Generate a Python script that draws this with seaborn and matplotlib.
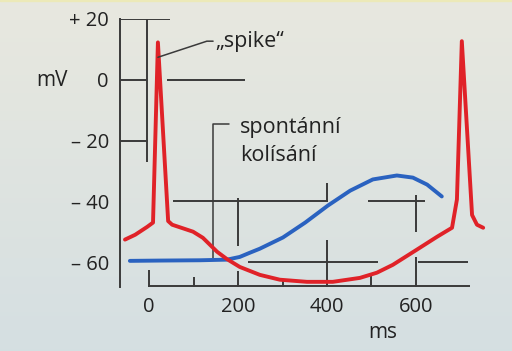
import numpy as np
import pandas as pd
import seaborn as sns
import matplotlib.pyplot as plt

# hodnoty (cas v ms, napeti v mV)
red_ms = [-54, -31, -4, 9, 20, 43, 52, 99, 121, 153, 175, 204, 249, 294, 355, 413,
          474, 512, 548, 602, 647, 681, 692, 703, 726, 737, 751]
red_mv = [-52.6, -51.0, -48.4, -47.0, 12.3, -46.5, -47.7, -50.0, -52.0, -56.6, -59.0,
          -61.6, -64.2, -65.8, -66.5, -66.5, -65.2, -63.5, -60.9, -55.9, -51.7, -48.7,
          -39.4, 12.7, -44.5, -47.7, -48.7]

blue_ms = [-43, 25, 115, 175, 204, 227, 249, 301, 351, 402, 452, 503, 557, 593, 625, 658]
blue_mv = [-59.6, -59.5, -59.4, -59.2, -58.3, -56.9, -55.6, -51.9, -47.0, -41.4, -36.5,
           -32.8, -31.5, -32.2, -34.5, -38.4]

y_ticks = [-60, -40, -20, 0, 20]
y_labels = ['– 60', '– 40', '– 20', '0', '+ 20']
x_ticks = [0, 200, 400, 600]
x_labels = ['0', '200', '400', '600']

sns.set_style('white')
plt.rcParams['font.family'] = ['Open Sans', 'DejaVu Sans']

W, H = 512, 351
fig = plt.figure(figsize=(W / 100, H / 100), dpi=100)

# pozadi - jemny prechod od bezove k modroseda
bg = fig.add_axes([0, 0, 1, 1])
top = np.array([0.91, 0.91, 0.875])
bot = np.array([0.835, 0.875, 0.885])
t = np.linspace(0, 1, 200)[:, None, None]
grad = top * (1 - t) + bot * t
bg.imshow(np.repeat(grad, 2, axis=1), aspect='auto', extent=[0, 1, 0, 1])
bg.axhspan(0.996, 1, color='#ece9b8')
bg.set_axis_off()

# hlavni osy: leva osa na x=120 px, +20 mV na y=19 px, dno na y=287 px
x0, x1, y0, y1 = 120, 500, 287, 19
ax = fig.add_axes([x0 / W, 1 - y0 / H, (x1 - x0) / W, (y0 - y1) / H])
ax.patch.set_alpha(0)
ax.set_xlim(-65.2, 788.8)
ax.set_ylim(-68.2, 20)

for s in ['top', 'right', 'bottom']:
    ax.spines[s].set_visible(False)
ax.spines['left'].set_color('#3a3a3a')
ax.spines['left'].set_linewidth(1.4)

tc = '#222222'
ax.set_yticks(y_ticks)
ax.set_yticklabels(y_labels)
ax.set_yticks([-50, -30, -10, 10], minor=True)
ax.tick_params(axis='y', which='major', direction='in', length=12, width=1.4,
               color='#3a3a3a', pad=8, labelsize=14.5, labelcolor=tc)
ax.tick_params(axis='y', which='minor', direction='in', length=8.5, width=1.4,
               color='#3a3a3a')
ax.set_xticks(x_ticks)
ax.set_xticklabels(x_labels)
ax.tick_params(axis='x', length=0, pad=7, labelsize=14.5, labelcolor=tc)

# zbytky mrizky jako v predloze
gc = '#3a3a3a'
lw = 1.4
ax.hlines(20, -65, 47, color=gc, lw=lw)
ax.hlines(0, -65, -4.5, color=gc, lw=lw)
ax.hlines(0, 40, 216, color=gc, lw=lw)
ax.hlines(-20, -65, -2, color=gc, lw=lw)
ax.vlines(-4.5, -27, 20, color=gc, lw=lw)
ax.hlines(-40, 54, 402, color=gc, lw=lw)
ax.hlines(-40, 492, 620, color=gc, lw=lw)
ax.hlines(-60, 222, 515, color=gc, lw=lw)
ax.hlines(-60, 605, 717, color=gc, lw=lw)
ax.vlines(200, -54.6, -39, color=gc, lw=lw)
ax.vlines(200, -68.2, -62.8, color=gc, lw=lw)
ax.vlines(400, -40, -34, color=gc, lw=lw)
ax.vlines(400, -68.2, -52.6, color=gc, lw=lw)
ax.vlines(600, -50, -37.8, color=gc, lw=lw)
ax.vlines(600, -68.2, -58.3, color=gc, lw=lw)
ax.vlines(0, -68.2, -62.5, color=gc, lw=lw)
ax.vlines([100, 300, 500], -68.2, [-65, -65.5, -63.5], color=gc, lw=lw)
ax.hlines(-68.0, -2, 721, color=gc, lw=lw, clip_on=False)

# krivky
sns.lineplot(x=blue_ms, y=blue_mv, sort=False, estimator=None, ax=ax,
             color='#2a62c0', lw=2.8, zorder=5)
sns.lineplot(x=red_ms, y=red_mv, sort=False, estimator=None, ax=ax,
             color='#e02228', lw=2.8, zorder=6)

# popisky
ax.plot([20, 130, 144], [7.4, 12.7, 12.7], color=gc, lw=1.1, zorder=7)
ax.text(148, 12.5, '\u201espike\u201c', fontsize=15.5, va='center', ha='left', color=tc)
ax.plot([180, 144, 144], [-14.7, -14.7, -58.5], color=gc, lw=1.1, zorder=4)
ax.text(204, -15.7, 'spontánní', fontsize=15.5, va='center', ha='left', color=tc)
ax.text(204, -24.8, 'kolísání', fontsize=15.5, va='center', ha='left', color=tc)

fig.text(52 / W, 1 - 80 / H, 'mV', fontsize=15, ha='center', va='center', color=tc)
fig.text(383 / W, 1 - 333 / H, 'ms', fontsize=15, ha='center', va='center', color=tc)

fig.savefig('out.png', dpi=100)
